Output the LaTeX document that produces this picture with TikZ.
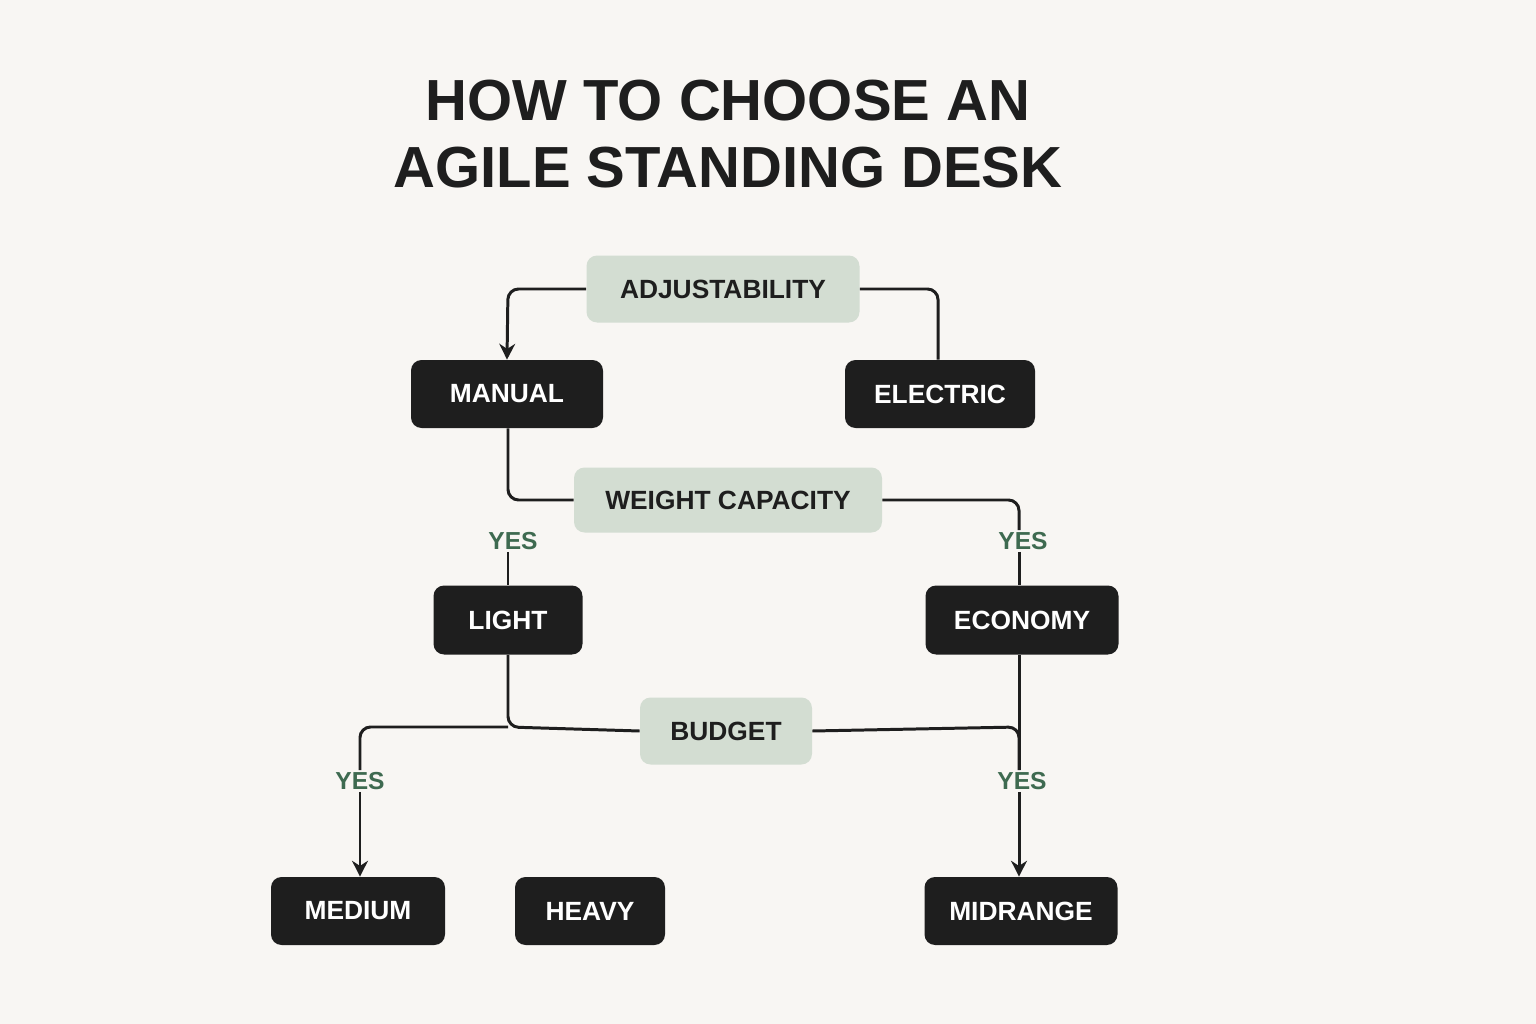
\documentclass[tikz,border=0pt]{standalone}
\usepackage{fontspec}
\setmainfont{Liberation Sans}
\usetikzlibrary{arrows.meta}
\definecolor{bg}{HTML}{F8F6F3}
\definecolor{sage}{HTML}{D3DDD2}
\definecolor{ink}{HTML}{1E1E1E}
\definecolor{yesg}{HTML}{3E6A50}
\begin{document}
\begin{tikzpicture}[x=0.02cm,y=-0.02cm,
 dark/.style={fill=ink,text=white,rounded corners=6pt,font=\fontsize{15}{18}\selectfont\bfseries,inner sep=0pt},
 light/.style={fill=sage,text=ink,rounded corners=6pt,font=\fontsize{15}{18}\selectfont\bfseries,inner sep=0pt},
 yes/.style={text=yesg,font=\fontsize{14}{16}\selectfont\bfseries,inner sep=1pt},
 ln/.style={draw=ink,line width=1.7pt,rounded corners=6pt},
 arr/.style={-{Stealth[length=9pt,width=9pt]}}]
\fill[bg] (0,0) rectangle (1536,1024);
\node[font=\fontsize{33}{40}\selectfont\bfseries,text=ink,align=center] (title) at (728,134) {HOW TO CHOOSE AN\\[-2pt]AGILE STANDING DESK};
\node[light,minimum width=273*0.02cm,minimum height=67*0.02cm] (adj) at (723,289) {ADJUSTABILITY};
\node[dark,minimum width=192*0.02cm,minimum height=68*0.02cm] (man) at (507,394) {MANUAL};
\node[dark,minimum width=190*0.02cm,minimum height=68*0.02cm] (ele) at (940,394) {ELECTRIC};
\node[light,minimum width=308*0.02cm,minimum height=65*0.02cm] (wc) at (728,500) {WEIGHT CAPACITY};
\node[dark,minimum width=149*0.02cm,minimum height=69*0.02cm] (lig) at (508,620) {LIGHT};
\node[dark,minimum width=193*0.02cm,minimum height=69*0.02cm] (eco) at (1022,620) {ECONOMY};
\node[light,minimum width=172*0.02cm,minimum height=67*0.02cm] (bud) at (726,731) {BUDGET};
\node[dark,minimum width=174*0.02cm,minimum height=68*0.02cm] (med) at (358,911) {MEDIUM};
\node[dark,minimum width=150*0.02cm,minimum height=68*0.02cm] (hea) at (590,911) {HEAVY};
\node[dark,minimum width=193*0.02cm,minimum height=68*0.02cm] (mid) at (1021,911) {MIDRANGE};
\node[yes] (y1) at (513,541) {YES};
\node[yes] (y2) at (1023,541) {YES};
\node[yes] (y3) at (360,781) {YES};
\node[yes] (y4) at (1022,781) {YES};
\coordinate (c1) at (508,289);
\coordinate (c2) at (938,289);
\coordinate (c3) at (508,500);
\coordinate (c4) at (1019,500);
\coordinate (c5) at (508,727);
\coordinate (c6) at (360,727);
\coordinate (c7) at (1019,727);
\draw[ln,arr] (adj.west) -- (c1) -- (man.north);
\draw[ln] (adj.east) -- (c2) -- (ele.north -| c2);
\draw[ln] (man.south -| c3) -- (c3) -- (wc.west);
\draw[ln] (wc.east) -- (c4) -- (y2.north -| c4);
\draw[ln] (y2.south -| c4) -- (eco.north -| c4);
\draw[ln] (y1.south -| c3) -- (lig.north -| c3);
\draw[ln] (lig.south -| c5) -- (c5) -- (bud.west);
\draw[ln] (c5) -- (c6) -- (y3.north -| c6);
\draw[ln,arr] (y3.south -| c6) -- (med.north -| c6);
\draw[ln] (eco.south -| c7) -- (y4.north -| c7);
\draw[ln] (bud.east) -- (c7) -- (y4.north -| c7);
\draw[ln,arr] (y4.south -| c7) -- (mid.north -| c7);
\end{tikzpicture}
\end{document}
